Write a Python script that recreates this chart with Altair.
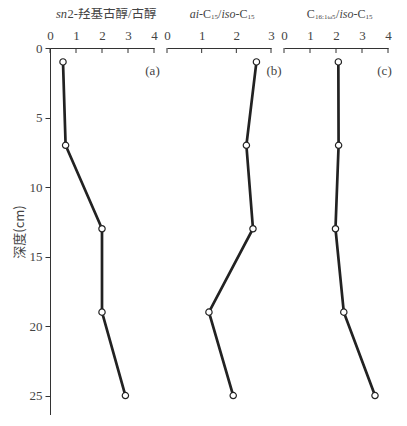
import altair as alt
import pandas as pd

# ---- data ----
depth = [1, 7, 13, 19, 25]
sn2_ratio = [0.5, 0.6, 2.0, 2.0, 2.9]
ai_iso = [2.58, 2.29, 2.48, 1.21, 1.91]
c16_iso = [2.09, 2.10, 1.98, 2.30, 3.50]

x_ticks_a = [0, 1, 2, 3, 4]
x_ticks_b = [0, 1, 2, 3]
x_ticks_c = [0, 1, 2, 3, 4]
y_ticks = [0, 5, 10, 15, 20, 25]
panel_labels = ["(a)", "(b)", "(c)"]
y_title = "深度(cm)"

# title pieces: (text, style, size, x offset, y offset)
title_a = [("sn", "italic", 12.5, 6, -34), ("2-羟基古醇/古醇", "normal", 12.5, 17.5, -34)]
title_b = [("ai", "italic", 12, 22.7, -34), ("-C", "normal", 12, 32, -34),
           ("15", "normal", 7, 44, -31), ("/", "normal", 12, 51, -34),
           ("iso", "italic", 12, 54.5, -34), ("-C", "normal", 12, 68.5, -34),
           ("15", "normal", 7, 80.5, -31)]
title_c = [("C", "normal", 12, 22.7, -34), ("16:1ω5", "normal", 7, 31, -31),
           ("/", "normal", 12, 52, -34), ("iso", "italic", 12, 55.5, -34),
           ("-C", "normal", 12, 69.5, -34), ("15", "normal", 7, 81.5, -31)]

SERIF = "Liberation Serif"
CJK = "Liberation Serif, Noto Sans CJK SC"
TXT = "#444444"
LINE = "#222222"
W = 104
YMAX = 26.4
H = round(YMAX * 13.92)


def panel(values, xmax, ticks, label, label_x, title_parts, show_y):
    df = pd.DataFrame({"depth": depth, "value": values})
    xscale = alt.Scale(domain=[0, xmax], nice=False, zero=True)
    yscale = alt.Scale(domain=[0, YMAX], nice=False, reverse=True)
    xaxis = alt.Axis(orient="top", values=ticks, ticks=False, grid=False, title=None,
                     labelFont=SERIF, labelFontSize=13, labelColor=TXT, labelPadding=6,
                     labelAngle=0, domainColor="#333333", labelFlush=False,
                     labelOverlap=False)
    if show_y:
        yaxis = alt.Axis(values=y_ticks, title=y_title, titleFont="Noto Sans CJK SC",
                         titleFontSize=13, titleFontWeight="normal", titleColor=TXT,
                         titlePadding=3, labelFont=SERIF, labelFontSize=13,
                         labelColor=TXT, tickSize=5, tickColor="#333333",
                         domainColor="#333333", grid=False, labelPadding=3,
                         labelOverlap=False, labelFlush=False)
    else:
        yaxis = None
    X = lambda f: alt.X(f, scale=xscale, axis=xaxis)
    Y = lambda f: alt.Y(f, scale=yscale, axis=yaxis)
    line = alt.Chart(df).mark_line(color=LINE, strokeWidth=2.7).encode(
        x=X("value:Q"), y=Y("depth:Q"), order="depth:Q")
    pts = alt.Chart(df).mark_point(filled=True, fill="white", stroke=LINE, strokeWidth=1.2,
                                   size=40, opacity=1).encode(x=X("value:Q"), y=Y("depth:Q"))
    tk = alt.Chart(pd.DataFrame({"value": ticks})).mark_rule(
        color="#333333", strokeWidth=1).encode(
        x=X("value:Q"), y=alt.value(0), y2=alt.value(5))
    lab = alt.Chart(pd.DataFrame({"s": [label]})).mark_text(
        font=SERIF, fontSize=13, color=TXT, align="center", baseline="middle").encode(
        text="s:N", x=alt.value(label_x), y=alt.value(23))
    layers = [line, tk, pts, lab]
    for txt, style, size, px, py in title_parts:
        layers.append(alt.Chart(pd.DataFrame({"s": [txt]})).mark_text(
            font=CJK, fontSize=size, fontStyle=style, color=TXT, align="left",
            baseline="middle").encode(text="s:N", x=alt.value(px), y=alt.value(py)))
    return alt.layer(*layers).properties(width=W, height=H)


pa = panel(sn2_ratio, 4, x_ticks_a, panel_labels[0], 102.5, title_a, True)
pb = panel(ai_iso, 3, x_ticks_b, panel_labels[1], 107, title_b, False)
pc = panel(c16_iso, 4, x_ticks_c, panel_labels[2], 100.5, title_c, False)

chart = alt.hconcat(pa, pb, pc, spacing=13, bounds="flush").properties(
    padding={"left": 5, "top": 0, "right": 0, "bottom": 0},
    background="white"
).configure_view(stroke=None)

chart.save("out.html", embed_options={"renderer": "svg", "actions": False})
